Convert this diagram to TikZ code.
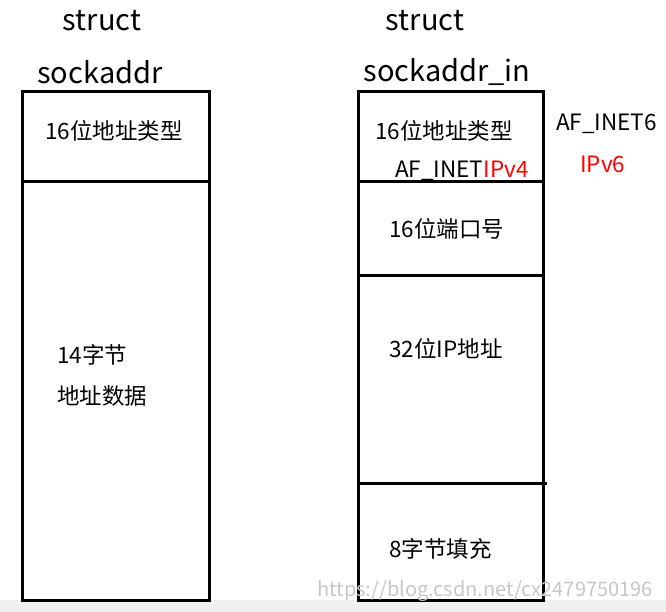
\documentclass[tikz,border=0pt]{standalone}
\usepackage{fontspec}
\setmainfont{Noto Sans CJK SC}
\tikzset{
  box/.style={draw, line width=3pt},
  title/.style={font=\fontsize{29}{32}\selectfont, inner sep=0pt},
  lbl/.style={font=\fontsize{22.5}{26}\selectfont, inner sep=0pt, anchor=west},
}
\begin{document}
\begin{tikzpicture}[x=1pt, y=-1pt]
    \useasboundingbox (0,0) rectangle (666,612);
    \fill[gray!12] (0,600) rectangle (666,612);

    % Titles
    \node[title] (t1) at (102,21) {struct};
    \node[title] (t2) at (100,72) {sockaddr};
    \node[title] (t3) at (425,21) {struct};
    \node[title] (t4) at (447,72) {sockaddr\_in};

    % Left box
    \draw[box] (22,92) rectangle (209,600);
    \draw[box] (22,182) -- (211,182);
    \node[lbl] (a1) at (45,131) {16位地址类型};
    \node[lbl] (a2) at (57,355) {14字节};
    \node[lbl] (a3) at (57,396) {地址数据};

    % Right box
    \draw[box] (358,92) rectangle (543,600);
    \draw[box] (358,182) -- (545,182);
    \draw[box] (358,275) -- (545,275);
    \draw[box] (358,483) -- (547,483);
    \node[lbl] (b1) at (375,131) {16位地址类型};
    \node[lbl] (b2) at (395,171) {AF\_INET\textcolor{red}{IPv4}};
    \node[lbl] (b3) at (556,124) {AF\_INET6};
    \node[lbl, text=red] (b4) at (580,164) {IPv6};
    \node[lbl] (b5) at (389,229) {16位端口号};
    \node[lbl] (b6) at (389,349) {32位IP地址};
    \node[lbl] (b7) at (389,549) {8字节填充};

    % Watermark
    \node[font=\fontsize{20}{21}\selectfont, text=gray!45, inner sep=0pt] (wm) at (485,591) {https://blog.csdn.net/cx2479750196};
\end{tikzpicture}
\end{document}
